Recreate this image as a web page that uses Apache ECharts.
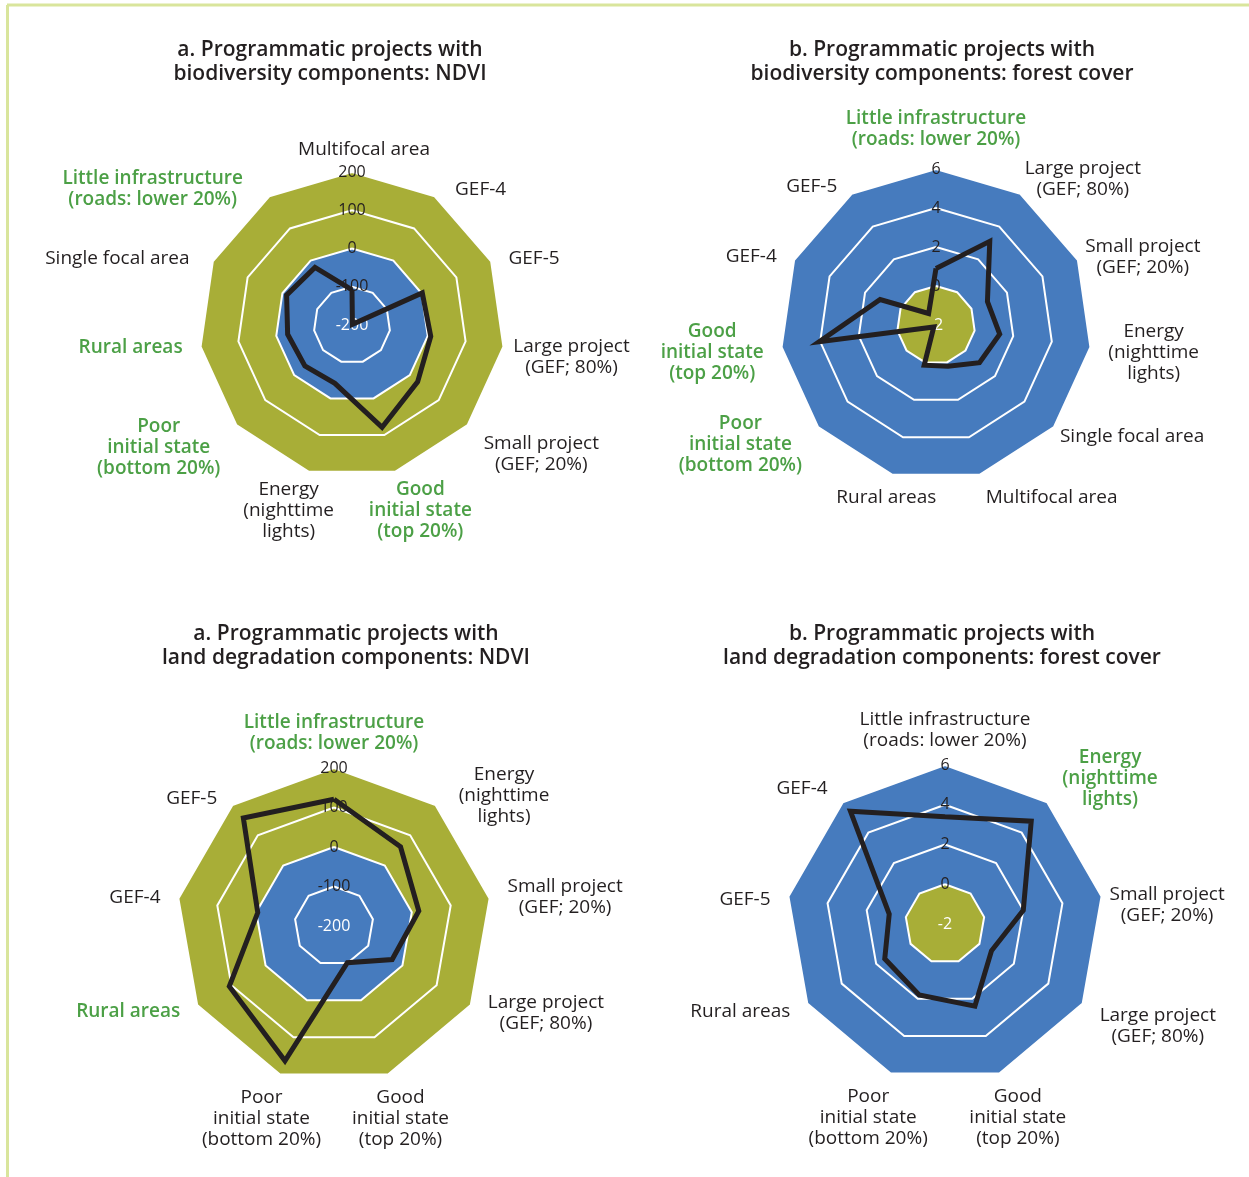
<!DOCTYPE html>
<html>
<head>
<meta charset="utf-8">
<script src="https://cdn.jsdelivr.net/npm/echarts@6/dist/echarts.min.js"></script>
<style>
  html, body { margin: 0; padding: 0; background: #ffffff; }
  #chart { width: 1249px; height: 1177px; }
</style>
</head>
<body>
<div id="chart"></div>
<script>
// ---- Data: axes are listed clockwise, starting with the top axis ----
const ndviTicks = [-200, -100, 0, 100, 200];
const forestTicks = [-2, 0, 2, 4, 6];

const bioNdviAxes = ['Multifocal area', 'GEF-4', 'GEF-5', 'Large project\n(GEF; 80%)', 'Small project\n(GEF; 20%)',
  'Good\ninitial state\n(top 20%)', 'Energy\n(nighttime\nlights)', 'Poor\ninitial state\n(bottom 20%)',
  'Rural areas', 'Single focal area', 'Little infrastructure\n(roads: lower 20%)'];
const bioNdviValues = [-108, -198, 2, 8, 27, 79, -41, -37, -30, -12, -21];
const bioNdviHighlight = ['Good\ninitial state\n(top 20%)', 'Poor\ninitial state\n(bottom 20%)', 'Rural areas',
  'Little infrastructure\n(roads: lower 20%)'];

const bioForestAxes = ['Little infrastructure\n(roads: lower 20%)', 'Large project\n(GEF; 80%)', 'Small project\n(GEF; 20%)',
  'Energy\n(nighttime\nlights)', 'Single focal area', 'Multifocal area', 'Rural areas',
  'Poor\ninitial state\n(bottom 20%)', 'Good\ninitial state\n(top 20%)', 'GEF-4', 'GEF-5'];
const bioForestValues = [0.9, 3.1, 0.9, 1.3, 0.95, 0.2, 0.15, -1.85, 4.05, 1.15, -1.3];
const bioForestHighlight = ['Little infrastructure\n(roads: lower 20%)', 'Poor\ninitial state\n(bottom 20%)',
  'Good\ninitial state\n(top 20%)'];

const landNdviAxes = ['Little infrastructure\n(roads: lower 20%)', 'Energy\n(nighttime\nlights)', 'Small project\n(GEF; 20%)',
  'Large project\n(GEF; 80%)', 'Good\ninitial state\n(top 20%)', 'Poor\ninitial state\n(bottom 20%)',
  'Rural areas', 'GEF-4', 'GEF-5'];
const landNdviValues = [121, 62, 18, -30, -101, 163, 106, -4, 157];
const landNdviHighlight = ['Little infrastructure\n(roads: lower 20%)', 'Rural areas'];

const landForestAxes = ['Little infrastructure\n(roads: lower 20%)', 'Energy\n(nighttime\nlights)', 'Small project\n(GEF; 20%)',
  'Large project\n(GEF; 80%)', 'Good\ninitial state\n(top 20%)', 'Poor\ninitial state\n(bottom 20%)',
  'Rural areas', 'GEF-5', 'GEF-4'];
const landForestValues = [3.4, 4.75, 2.0, 0.7, 2.4, 1.8, 1.5, 0.85, 5.4];
const landForestHighlight = ['Energy\n(nighttime\nlights)'];

const titles = [
  'a. Programmatic projects with\nbiodiversity components: NDVI',
  'b. Programmatic projects with\nbiodiversity components: forest cover',
  'a. Programmatic projects with\nland degradation components: NDVI',
  'b. Programmatic projects with\nland degradation components: forest cover'
];

// ---- Styling ----
const FONT = '"Open Sans", Roboto, "DejaVu Sans", sans-serif';
const DARK = '#231f20';
const GREEN = '#4ca046';
const BLUE = '#467bbe';
const OLIVE = '#a8ae37';
const FRAME = '#d9e59c';

// Panel layout; "nudge" holds extra [dx, dy] label offsets keyed by clockwise axis index
const panels = [
  { axes: bioNdviAxes, values: bioNdviValues, highlight: bioNdviHighlight, ticks: ndviTicks,
    bands: [BLUE, BLUE, OLIVE, OLIVE], center: [352, 325], radius: 153, title: [330, 38],
    nudge: { 0: [12, 2], 1: [6, 0], 3: [-8, 5], 4: [0, 11], 5: [5, -5], 6: [0, -5], 7: [0, 5],
             8: [0, -5], 9: [-6, 0], 10: [-12, 0] } },
  { axes: bioForestAxes, values: bioForestValues, highlight: bioForestHighlight, ticks: forestTicks,
    bands: [OLIVE, BLUE, BLUE, BLUE], center: [936, 325], radius: 156, title: [942, 38],
    nudge: { 0: [0, -5], 1: [-10, -8], 2: [-10, 0], 4: [-10, -8], 5: [50, 0], 6: [16, 0] } },
  { axes: landNdviAxes, values: landNdviValues, highlight: landNdviHighlight, ticks: ndviTicks,
    bands: [BLUE, BLUE, OLIVE, OLIVE], center: [334, 926], radius: 158, title: [346, 622],
    nudge: { 1: [8, -3], 3: [0, -6], 4: [-10, 0], 5: [4, 0], 6: [0, -7] } },
  { axes: landForestAxes, values: landForestValues, highlight: landForestHighlight, ticks: forestTicks,
    bands: [OLIVE, BLUE, BLUE, BLUE], center: [945, 924], radius: 159, title: [942, 622],
    nudge: { 1: [0, -17], 2: [-10, 10], 3: [0, 9], 4: [-4, 0], 6: [0, -6], 7: [0, 5], 8: [0, -7] } }
];

// Name placement from the clockwise angle of the axis (degrees from the top)
function nameLayout(deg, nudge) {
  const rad = deg * Math.PI / 180;
  let align, va, gap, ox = 0, oy = 0;
  if (deg < 1) {
    align = 'center'; va = 'bottom'; gap = 14;
  } else if (deg > 150 && deg < 210) {
    align = 'center'; va = 'top'; gap = 13; ox = deg < 180 ? 18 : -18;
  } else {
    align = deg < 180 ? 'left' : 'right'; va = 'middle'; gap = 8;
    ox = deg < 180 ? 10 : -10;
    if (Math.cos(rad) < 0) oy = -16 * Math.cos(rad) + 2;
  }
  if (nudge) { ox += nudge[0]; oy += nudge[1]; }
  const pad = [0, 0, 0, 0];
  if (align === 'left') pad[3] = Math.max(0, ox);
  else if (align === 'right') pad[1] = Math.max(0, -ox);
  else { pad[3] = Math.max(0, 2 * ox); pad[1] = Math.max(0, -2 * ox); }
  if (va === 'middle') { pad[0] = Math.max(0, 2 * oy); pad[2] = Math.max(0, -2 * oy); }
  else if (va === 'top') { if (oy >= 0) pad[0] = oy; else gap += oy; }
  else { if (oy <= 0) pad[2] = -oy; else gap -= oy; }
  return { gap: gap, align: align, verticalAlign: va, padding: pad };
}

// ECharts lays radar axes out counter-clockwise: keep the top axis, reverse the rest
function ccwOrder(n) {
  const idx = [0];
  for (let k = n - 1; k >= 1; k--) idx.push(k);
  return idx;
}

const radars = [];
const series = [];
panels.forEach(function (p, pi) {
  const n = p.axes.length;
  const order = ccwOrder(n);
  const min = p.ticks[0];
  const max = p.ticks[p.ticks.length - 1];
  const indicator = order.map(function (k, i) {
    const lay = nameLayout(k * 360 / n, p.nudge[k]);
    const ind = {
      name: p.axes[k],
      min: min,
      max: max,
      nameGap: lay.gap,
      nameTextStyle: { align: lay.align, verticalAlign: lay.verticalAlign, padding: lay.padding }
    };
    if (i === 0) {
      ind.axisLabel = {
        show: true,
        margin: 0,
        align: 'center',
        verticalAlign: 'middle',
        fontFamily: FONT,
        fontSize: 16,
        formatter: function (v) { return String(v); },
        color: function (v) { return Number(v) === min ? '#ffffff' : DARK; }
      };
    }
    return ind;
  });
  radars.push({
    center: p.center,
    radius: p.radius,
    startAngle: 90,
    splitNumber: p.ticks.length - 1,
    shape: 'polygon',
    axisLine: { show: false },
    axisTick: { show: false },
    axisLabel: { show: false },
    splitLine: { show: true, lineStyle: { color: '#ffffff', width: 2 } },
    splitArea: { show: true, areaStyle: { color: p.bands, opacity: 1 } },
    axisName: {
      fontFamily: FONT,
      fontSize: 19,
      lineHeight: 21,
      color: DARK,
      formatter: function (name) {
        const style = p.highlight.indexOf(name) >= 0 ? 'g' : 'n';
        return name.split('\n').map(function (line) { return '{' + style + '|' + line + '}'; }).join('\n');
      },
      rich: {
        n: { color: DARK, fontFamily: FONT, fontSize: 19, lineHeight: 21, align: 'center' },
        g: { color: GREEN, fontFamily: FONT, fontSize: 19, lineHeight: 21, fontWeight: 600, align: 'center' }
      }
    },
    indicator: indicator
  });
  series.push({
    type: 'radar',
    radarIndex: pi,
    symbol: 'none',
    silent: true,
    lineStyle: { color: DARK, width: 5, join: 'miter', miterLimit: 8 },
    areaStyle: { opacity: 0 },
    data: [{ value: order.map(function (k) { return p.values[k]; }) }]
  });
});

const graphics = [
  { type: 'line', shape: { x1: 7, y1: 5, x2: 1249, y2: 5 }, style: { stroke: FRAME, lineWidth: 3 }, silent: true },
  { type: 'line', shape: { x1: 7.5, y1: 5, x2: 7.5, y2: 1177 }, style: { stroke: FRAME, lineWidth: 3 }, silent: true }
];
panels.forEach(function (p, pi) {
  graphics.push({
    type: 'text',
    x: p.title[0],
    y: p.title[1],
    silent: true,
    style: {
      text: titles[pi],
      fill: DARK,
      font: '600 21px ' + FONT,
      lineHeight: 24,
      textAlign: 'center',
      textVerticalAlign: 'top'
    }
  });
});

const chart = echarts.init(document.getElementById('chart'), null, { renderer: 'canvas' });
chart.setOption({
  animation: false,
  backgroundColor: '#ffffff',
  radar: radars,
  series: series,
  graphic: graphics
});
</script>
</body>
</html>
